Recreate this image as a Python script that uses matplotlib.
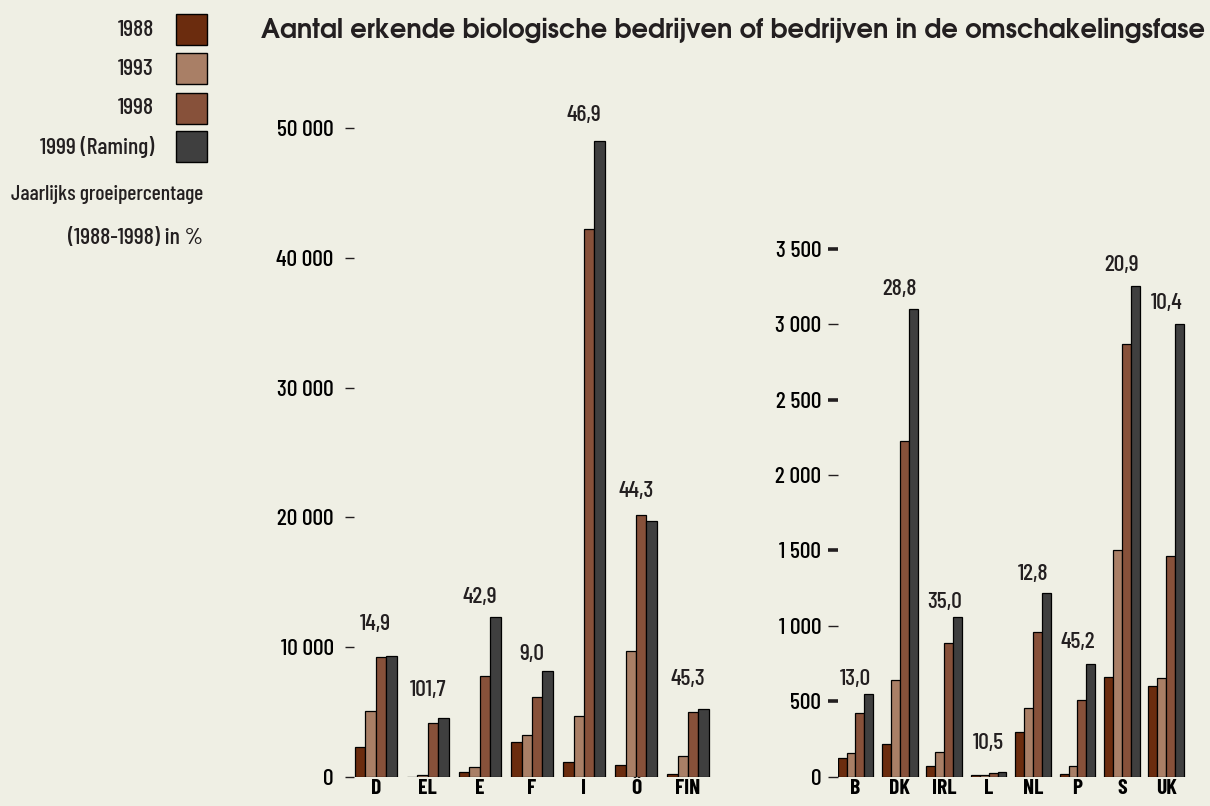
import matplotlib
matplotlib.use('Agg')
import matplotlib.pyplot as plt
import matplotlib.transforms as mtransforms
from matplotlib.patches import Rectangle
import numpy as np

# data
series = ['1988', '1993', '1998', '1999 (Raming)']
colors = ['#6B2C0E', '#A97F66', '#87513A', '#3F3F3F']

left_cats = ['D', 'EL', 'E', 'F', 'I', 'Ö', 'FIN']
left_1988 = [2300, 20, 360, 2700, 1130, 900, 200]
left_1993 = [5100, 150, 770, 3260, 4700, 9730, 1600]
left_1998 = [9220, 4180, 7800, 6160, 42220, 20185, 4980]
left_1999 = [9320, 4520, 12300, 8170, 49000, 19746, 5210]
left_growth = ['14,9', '101,7', '42,9', '9,0', '46,9', '44,3', '45,3']
left_ticks = [0, 10000, 20000, 30000, 40000, 50000]

right_cats = ['B', 'DK', 'IRL', 'L', 'NL', 'P', 'S', 'UK']
right_1988 = [126, 217, 73, 11, 298, 18, 663, 600]
right_1993 = [159, 639, 162, 10, 453, 73, 1503, 652]
right_1998 = [420, 2228, 887, 25, 962, 508, 2870, 1463]
right_1999 = [550, 3100, 1057, 29, 1216, 747, 3252, 3000]
right_growth = ['13,0', '28,8', '35,0', '10,5', '12,8', '45,2', '20,9', '10,4']
right_ticks = [0, 500, 1000, 1500, 2000, 2500, 3000, 3500]

# where the growth labels sit (data units)
left_label_y = [11790, 6700, 13870, 9480, 51000, 22030, 7550]
right_label_y = [648, 3234, 1159, 223, 1344, 893, 3393, 3141]

title = 'Aantal erkende biologische bedrijven of bedrijven in de omschakelingsfase'
growth_title = ['Jaarlijks groeipercentage', '(1988-1998) in %']

bg = '#EFEFE4'
ink = '#231F20'
cond = ['Barlow Condensed', 'DejaVu Sans']
plt.rcParams['font.family'] = cond
plt.rcParams['text.color'] = ink

fig = plt.figure(figsize=(12.1, 8.06), dpi=100, facecolor=bg)
W, H = 1210, 806


def fmt(v):
    return '{:,}'.format(v).replace(',', ' ')


def draw(ax, cats, vals, growth, label_y, ticks, ylim, xlim, lab_shift):
    ax.set_facecolor(bg)
    x = np.arange(len(cats))
    for k, v in enumerate(vals):
        ax.bar(x + (k - 1.5) * 0.2, v, 0.2, color=colors[k], edgecolor='black', linewidth=0.9, zorder=2)
    for i, g in enumerate(growth):
        ax.text(x[i], label_y[i], g, ha='center', va='center', fontsize=17, fontweight='medium')
    ax.set_xlim(*xlim)
    ax.set_ylim(*ylim)
    for s in ax.spines.values():
        s.set_visible(False)
    ax.set_xticks(x)
    ax.set_xticklabels(cats, fontsize=15.5, fontweight='bold')
    ax.tick_params(axis='x', length=0, pad=1.5)
    ax.set_yticks(ticks)
    ax.set_yticklabels([fmt(t) for t in ticks], fontsize=17, fontweight='medium')
    for i, lab in enumerate(ax.get_yticklabels()):
        dy = lab_shift[i] if isinstance(lab_shift, list) else lab_shift
        lab.set_transform(lab.get_transform() + mtransforms.ScaledTranslation(0, dy / 100, fig.dpi_scale_trans))


# left panel
axl = fig.add_axes([354 / W, 29 / H, 360 / W, 677 / H])
draw(axl, left_cats, [left_1988, left_1993, left_1998, left_1999], left_growth, left_label_y,
     left_ticks, (0, 52157), (-0.42, 6.5), 4)
axl.tick_params(axis='y', length=6.5, width=1.0, color=ink, pad=8.2)

# right panel
axr = fig.add_axes([838 / W, 29.3 / H, 367 / W, 676.7 / H])
draw(axr, right_cats, [right_1988, right_1993, right_1998, right_1999], right_growth, right_label_y,
     right_ticks, (0, 4487), (-0.393, 7.873), [5, 0, 0, 0, 0, 0, 0, 0])
axr.tick_params(axis='y', length=7, width=1.0, color=ink, pad=5.2)
for i, t in enumerate(axr.yaxis.get_major_ticks()):
    t.tick1line.set_markeredgewidth(2.6 if i % 2 else 1.0)

# legend
box_tops = [14, 53, 92.5, 131]
for i, name in enumerate(series):
    fig.add_artist(Rectangle((176 / W, 1 - (box_tops[i] + 31) / H), 31 / W, 31 / H,
                             facecolor=colors[i], edgecolor='black', linewidth=1.0,
                             transform=fig.transFigure))
    fig.text(154 / W, 1 - (box_tops[i] + 16) / H, name, ha='right', va='center',
             fontsize=17, fontweight='medium')
fig.text(203 / W, 1 - 195 / H, growth_title[0], ha='right', va='center', fontsize=15.5, fontweight='medium')
fig.text(203 / W, 1 - 238 / H, growth_title[1], ha='right', va='center', fontsize=17, fontweight='medium')

fig.text(1205 / W, 1 - 30 / H, title, ha='right', va='center', fontsize=18.5,
         fontweight='bold', family=['TeX Gyre Adventor', 'Poppins', 'DejaVu Sans'])

fig.savefig('out.png', dpi=100, facecolor=bg)
